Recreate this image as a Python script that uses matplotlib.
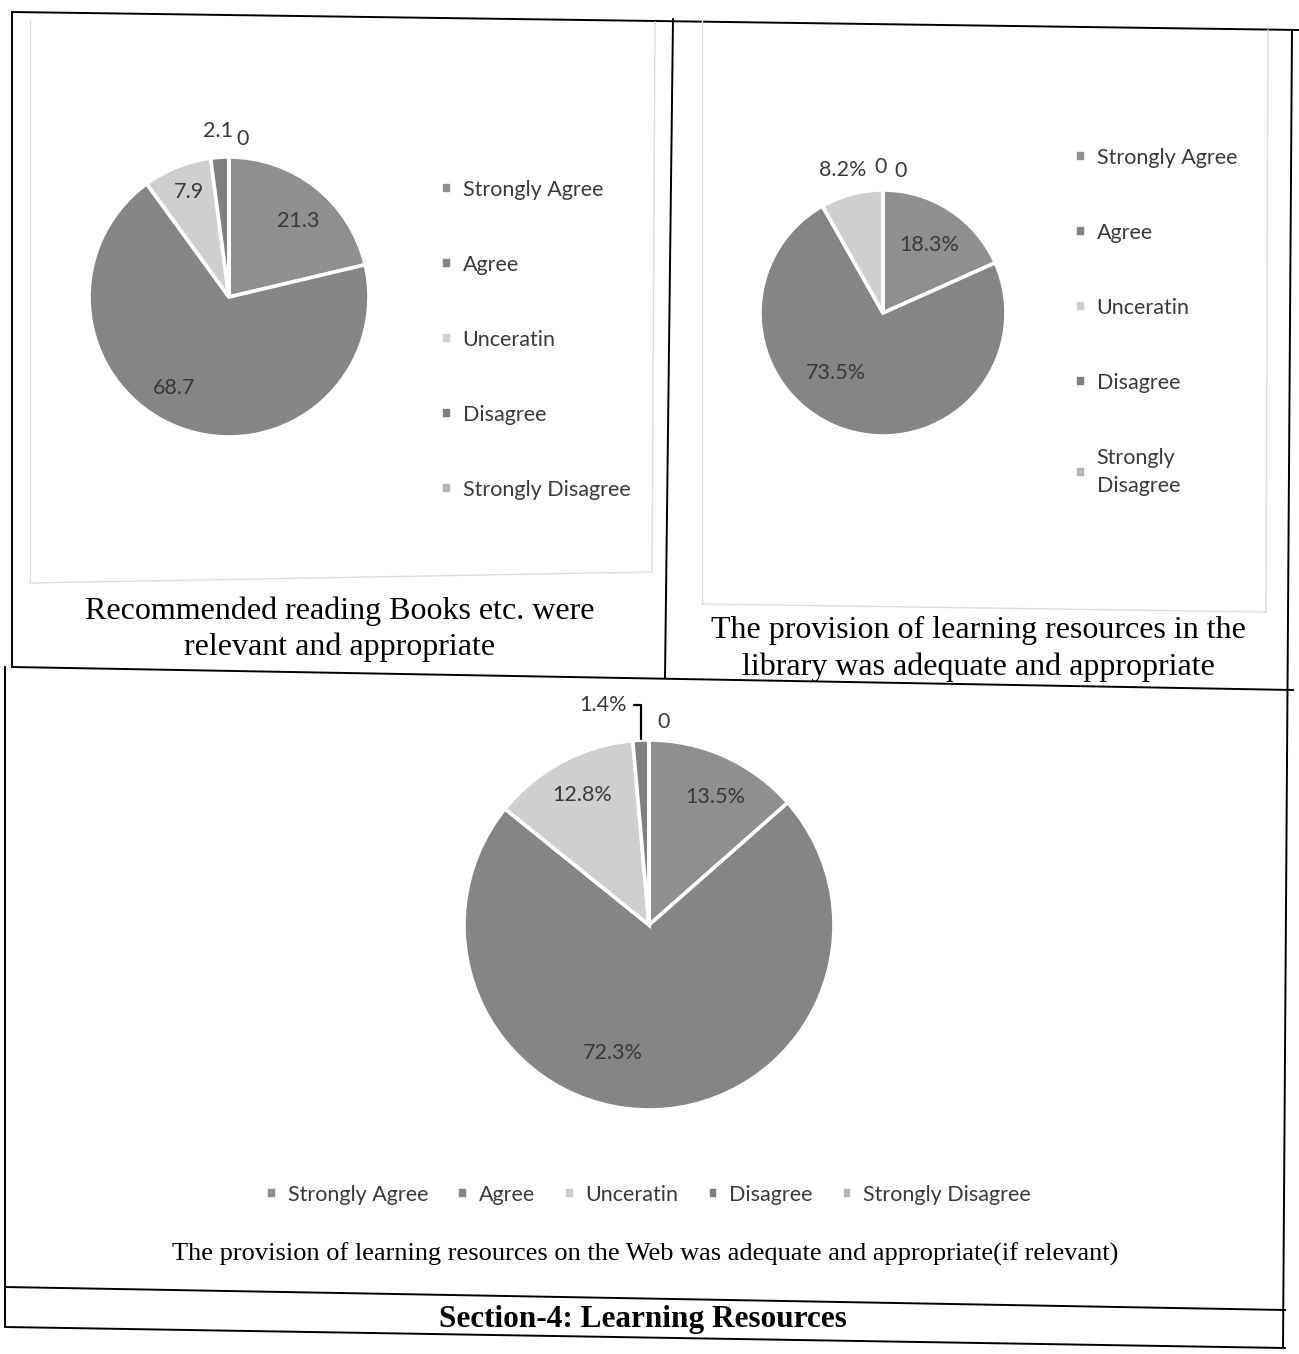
import matplotlib
matplotlib.use('Agg')
import matplotlib.pyplot as plt
from matplotlib.lines import Line2D
import numpy as np

W, H = 1299, 1354

categories = ["Strongly Agree", "Agree", "Unceratin", "Disagree", "Strongly Disagree"]
books_values = [21.3, 68.7, 7.9, 2.1, 0]
books_labels = ["21.3", "68.7", "7.9", "2.1", "0"]
library_values = [18.3, 73.5, 8.2, 0, 0]
library_labels = ["18.3%", "73.5%", "8.2%", "0", "0"]
web_values = [13.5, 72.3, 12.8, 1.4, 0]
web_labels = ["13.5%", "72.3%", "12.8%", "1.4%", "0"]

title_books = "Recommended reading Books etc. were\nrelevant and appropriate"
title_library = "The provision of learning resources in the\nlibrary was adequate and appropriate"
title_web = "The provision of learning resources on the Web was adequate and appropriate(if relevant)"
section_title = "Section-4: Learning Resources"

colors = ['#8f8f8f', '#858585', '#cfcfcf', '#808080', '#b4b4b4']
SANS = ['Lato', 'DejaVu Sans']
SERIF = ['Liberation Serif', 'DejaVu Serif']
LABEL_COLOR = '#3a3a3a'

fig = plt.figure(figsize=(W / 100, H / 100), dpi=100)


def fx(x):
    return x / W


def fy(y):
    return 1 - y / H


def line(x0, y0, x1, y1, color='black', lw=1.4):
    fig.add_artist(Line2D([fx(x0), fx(x1)], [fy(y0), fy(y1)], color=color, lw=lw,
                          transform=fig.transFigure))


def pie(cx, cy, r, values):
    ax = fig.add_axes([fx(cx - r), fy(cy + r), 2 * r / W, 2 * r / H])
    wedges, _ = ax.pie(values, colors=colors, startangle=90, counterclock=False,
                       wedgeprops=dict(edgecolor='white', linewidth=2.6))
    ax.set_xlim(-1, 1)
    ax.set_ylim(-1, 1)
    ax.set_aspect('equal')
    return ax, wedges


def place_labels(ax, wedges, labels, rfac, doff, fs=15.5, skip=()):
    for i, (w, lab, rf, do) in enumerate(zip(wedges, labels, rfac, doff)):
        if i in skip:
            continue
        ang = np.deg2rad((w.theta1 + w.theta2) / 2 + do)
        ax.text(rf * np.cos(ang), rf * np.sin(ang), lab, ha='center', va='center',
                fontsize=fs, color=LABEL_COLOR, family=SANS)


# ---- table frame ----
line(12, 12, 1299, 30)
line(12, 12, 12, 667)
line(5, 667, 5, 1327)
line(673, 19, 665, 678)
line(12, 667, 1293, 690)
line(1292, 30, 1283, 1348)
line(5, 1287, 1285, 1310)
line(5, 1327, 1285, 1348)

# faint chart boxes
fc = '#dcdcdc'
line(30, 20, 30, 583, fc, 1)
line(655, 22, 652, 572, fc, 1)
line(30, 583, 652, 572, fc, 1)
line(702, 20, 702, 604, fc, 1)
line(1268, 30, 1266, 612, fc, 1)
line(702, 604, 1266, 612, fc, 1)

LEG_FS = 15.5

# ---- pie 1 ----
ax1, w1 = pie(229, 297, 140, books_values)
place_labels(ax1, w1, books_labels, [0.73, 0.76, 0.8, 1.19, 1.13], [-4, -11, -1, 0, -5])
leg1 = fig.legend(w1, categories, loc='upper left', bbox_to_anchor=(fx(441), fy(180)),
                  frameon=False, prop=dict(family=SANS, size=LEG_FS), labelcolor=LABEL_COLOR,
                  handlelength=0.5, handleheight=0.5, handletextpad=0.5,
                  labelspacing=2.55, borderpad=0, borderaxespad=0)

# ---- pie 2 ----
ax2, w2 = pie(883, 313, 123, library_values)
place_labels(ax2, w2, library_labels, [0.67, 0.62, 1.21, 1.19, 1.16], [-1, -20, 1, 1, -7])
cats2 = categories[:4] + ["Strongly\nDisagree"]
leg2 = fig.legend(w2, cats2, loc='upper left', bbox_to_anchor=(fx(1075), fy(148)),
                  frameon=False, prop=dict(family=SANS, size=LEG_FS), labelcolor=LABEL_COLOR,
                  handlelength=0.5, handleheight=0.5, handletextpad=0.5,
                  labelspacing=2.55, borderpad=0, borderaxespad=0)
for t in leg2.get_texts():
    t.set_linespacing(1.55)

# ---- pie 3 ----
ax3, w3 = pie(649, 925, 185, web_values)
place_labels(ax3, w3, web_labels, [0.78, 0.72, 0.79, 1.2, 1.1], [-3, -17, -1, 0, -4], skip=(3,))
w = w3[3]
ang = np.deg2rad((w.theta1 + w.theta2) / 2)
ax3.annotate(web_labels[3], xy=(np.cos(ang), np.sin(ang)), xytext=(-0.12, 1.19),
             ha='right', va='center', fontsize=15.5, color=LABEL_COLOR, family=SANS,
             arrowprops=dict(arrowstyle='-', color='black', lw=1.6, shrinkA=3, shrinkB=1,
                             connectionstyle='angle,angleA=0,angleB=90,rad=0'))
leg3 = fig.legend(w3, categories, loc='upper left', bbox_to_anchor=(fx(266), fy(1185)),
                  ncol=5, frameon=False, prop=dict(family=SANS, size=LEG_FS), labelcolor=LABEL_COLOR,
                  handlelength=0.5, handleheight=0.5, handletextpad=0.5,
                  columnspacing=1.35, borderpad=0, borderaxespad=0)

# ---- titles ----
fig.text(fx(340), fy(629), title_books, ha='center', va='center', fontsize=23,
         family=SERIF, linespacing=1.3)
fig.text(fx(978), fy(649), title_library, ha='center', va='center', fontsize=23,
         family=SERIF, linespacing=1.3)
fig.text(fx(645), fy(1254), title_web, ha='center', va='center', fontsize=19, family=SERIF)
fig.text(fx(643), fy(1320), section_title, ha='center', va='center', fontsize=22.5,
         family=SERIF, fontweight='bold')

fig.savefig('out.png', dpi=100, facecolor='white')
